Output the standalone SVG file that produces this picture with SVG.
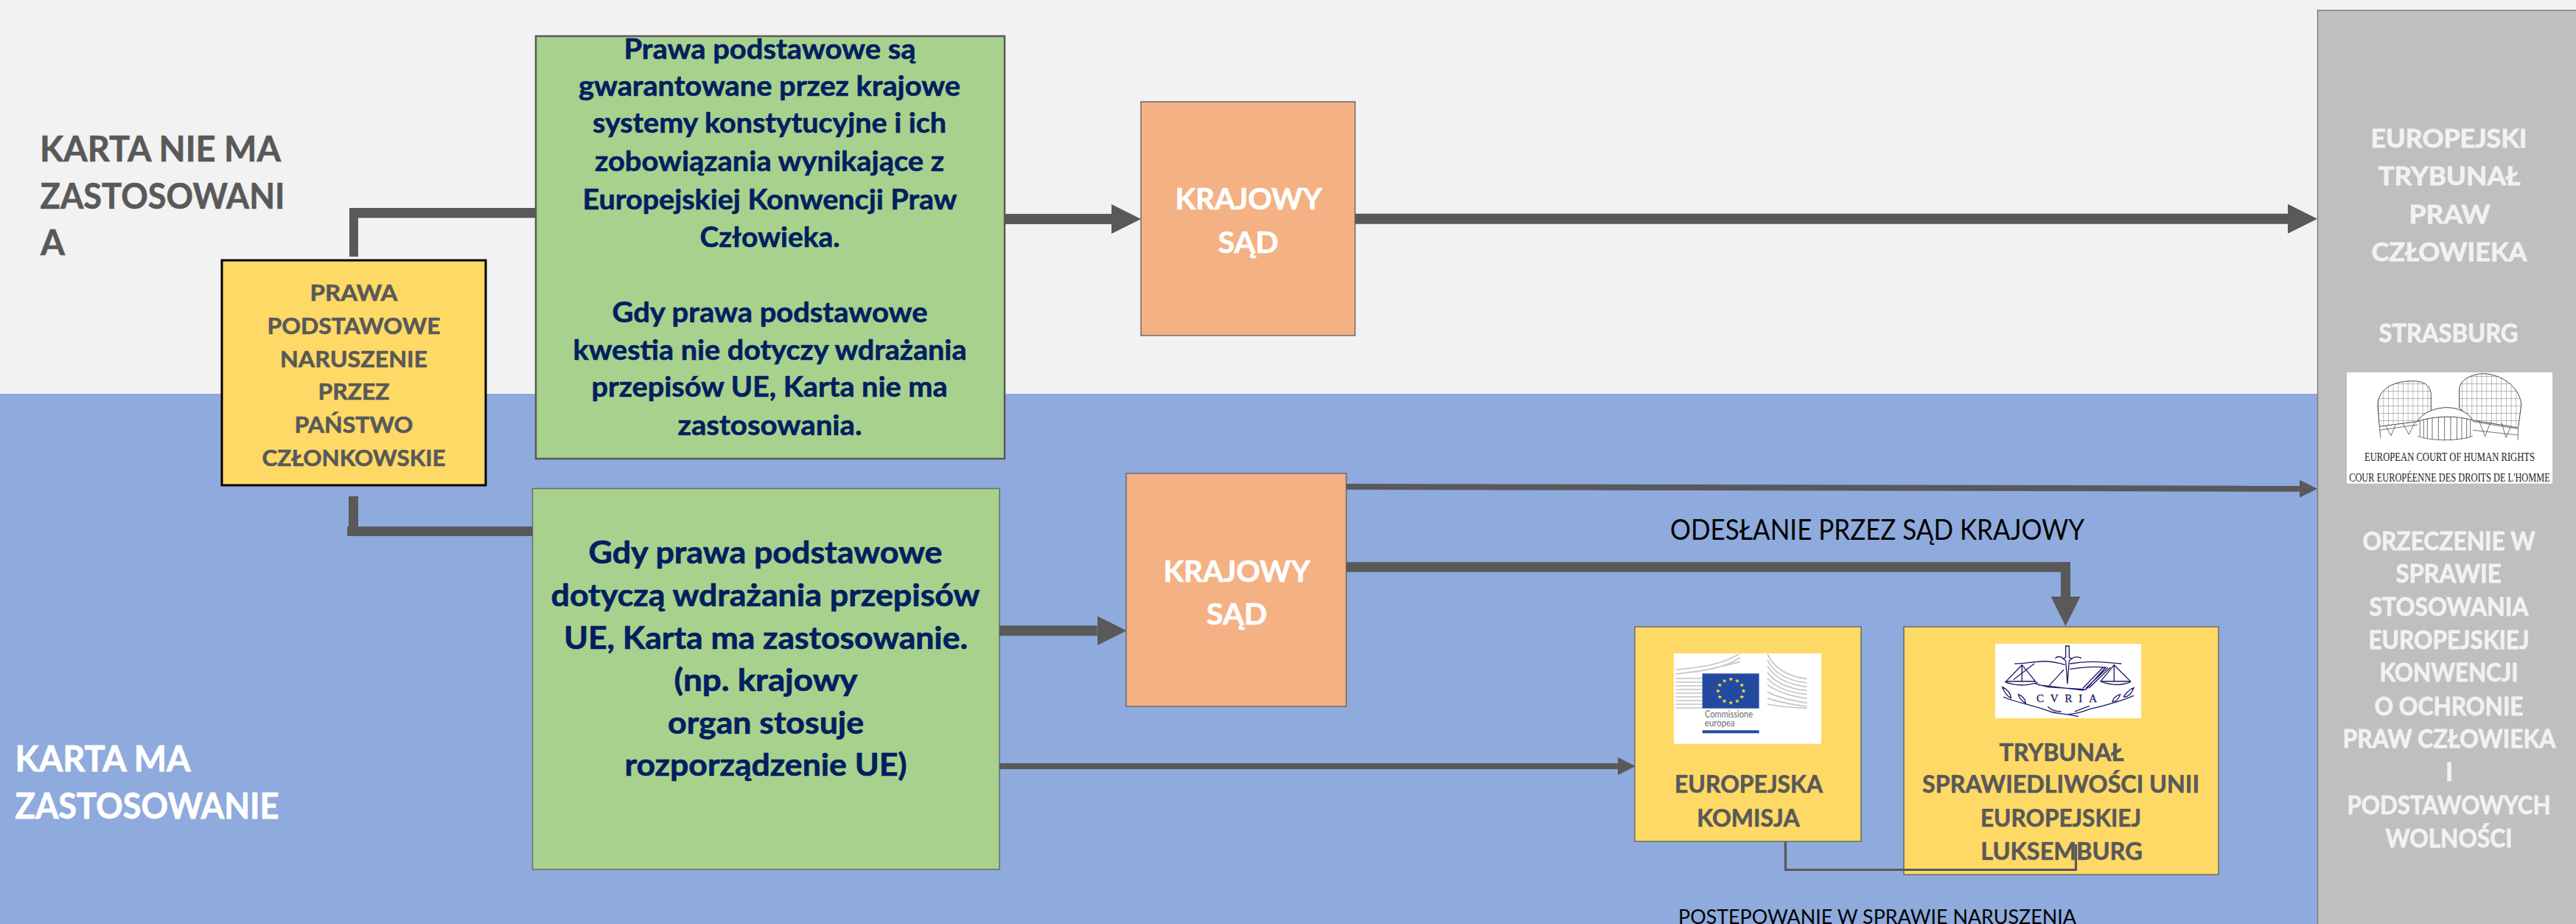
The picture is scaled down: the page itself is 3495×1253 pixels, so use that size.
<svg xmlns="http://www.w3.org/2000/svg" width="3495" height="1253" viewBox="0 0 3495 1253">
<style>
text{font-family:"Lato","Open Sans","Liberation Sans",sans-serif;font-weight:700;text-anchor:middle}
.b{stroke:#6b6b6b;stroke-width:1.5}
.g{fill:#a9d18e}.o{fill:#f4b183}.y{fill:#ffd966}
.n{fill:#002060;stroke:#002060;stroke-width:.6;font-size:38px}
.n2{fill:#002060;stroke:#002060;stroke-width:.7;font-size:42px}
.d{fill:#595959;stroke:#595959;stroke-width:.6;font-size:31px}
.d2{fill:#595959;stroke:#595959;stroke-width:.6;font-size:32px}
.w{fill:#fff;stroke:#fff;stroke-width:.7;font-size:41px}
.p{fill:#f2f2f2;stroke:#f2f2f2;stroke-width:.8;font-size:34px}
.h{font-size:47px}
.hw{fill:#fff;stroke:#fff;stroke-width:.8}
.l{text-anchor:start}
.c{fill:#000;font-weight:400}
.conn{fill:none;stroke:#595959}
.lg{fill:none;stroke:#c4c4c4;stroke-width:5}
.cu{fill:none;stroke:#1d1a66;stroke-width:4}
.eh{fill:none;stroke:#555;stroke-width:2.5}
.sf{font-family:"Liberation Serif",serif;font-weight:400}
</style>
<defs>
<marker id="big" markerUnits="userSpaceOnUse" markerWidth="40" markerHeight="40" refX="0" refY="20" orient="auto"><path d="M0,0L40,20L0,40Z" fill="#595959"/></marker>
<marker id="small" markerUnits="userSpaceOnUse" markerWidth="24" markerHeight="24" refX="0" refY="12" orient="auto"><path d="M0,0L24,12L0,24Z" fill="#595959"/></marker>
<polygon id="star" points="0,-9 2.4,-2.8 9,-2.8 3.8,1.2 5.6,7.5 0,3.8 -5.6,7.5 -3.8,1.2 -9,-2.8 -2.4,-2.8" fill="#f5e52e"/>
<pattern id="grid" patternUnits="userSpaceOnUse" width="20" height="30"><path d="M0,0V30M0,0H20" fill="none" stroke="#666" stroke-width="2.6"/></pattern>
</defs>

<g id="background">
<rect x="0" y="0" width="3495" height="534" fill="#f2f2f2"/>
<rect x="0" y="534" width="3495" height="719" fill="#8faadc"/>
</g>

<g id="label-nie-ma">
<text class="d h l" x="54" y="218.5" textLength="327" lengthAdjust="spacingAndGlyphs">KARTA NIE MA</text>
<text class="d h l" x="54.5" y="282.5" textLength="332" lengthAdjust="spacingAndGlyphs">ZASTOSOWANI</text>
<text class="d h l" x="55" y="345.5" textLength="33" lengthAdjust="spacingAndGlyphs">A</text>
</g>
<g id="label-ma">
<text class="h l hw" x="20.5" y="1045.7" textLength="238" lengthAdjust="spacingAndGlyphs">KARTA MA</text>
<text class="h l hw" x="20.5" y="1109.7" textLength="358" lengthAdjust="spacingAndGlyphs">ZASTOSOWANIE</text>
</g>

<g id="node-naruszenie">
<rect class="y" x="301" y="353" width="358" height="305" stroke="#000" stroke-width="3"/>
<text class="d" x="480" y="408" textLength="119" lengthAdjust="spacingAndGlyphs">PRAWA</text>
<text class="d" x="480" y="453" textLength="235" lengthAdjust="spacingAndGlyphs">PODSTAWOWE</text>
<text class="d" x="480" y="498" textLength="200" lengthAdjust="spacingAndGlyphs">NARUSZENIE</text>
<text class="d" x="480" y="542" textLength="97" lengthAdjust="spacingAndGlyphs">PRZEZ</text>
<text class="d" x="480" y="587" textLength="161" lengthAdjust="spacingAndGlyphs">PAŃSTWO</text>
<text class="d" x="480" y="632" textLength="249" lengthAdjust="spacingAndGlyphs">CZŁONKOWSKIE</text>
</g>

<g id="node-karta-nie-ma">
<rect class="g" x="727" y="49" width="636" height="573" stroke="#595959" stroke-width="2.5"/>
<text class="n" x="1044.5" y="79.5" textLength="396" lengthAdjust="spacingAndGlyphs">Prawa podstawowe są</text>
<text class="n" x="1044" y="129.5" textLength="518" lengthAdjust="spacingAndGlyphs">gwarantowane przez krajowe</text>
<text class="n" x="1044" y="180" textLength="480" lengthAdjust="spacingAndGlyphs">systemy konstytucyjne i ich</text>
<text class="n" x="1044" y="232" textLength="474" lengthAdjust="spacingAndGlyphs">zobowiązania wynikające z</text>
<text class="n" x="1044.5" y="283.5" textLength="508" lengthAdjust="spacingAndGlyphs">Europejskiej Konwencji Praw</text>
<text class="n" x="1044.5" y="335" textLength="190" lengthAdjust="spacingAndGlyphs">Człowieka.</text>
<text class="n" x="1044.5" y="436.6" textLength="428" lengthAdjust="spacingAndGlyphs">Gdy prawa podstawowe</text>
<text class="n" x="1044.5" y="487.5" textLength="534" lengthAdjust="spacingAndGlyphs">kwestia nie dotyczy wdrażania</text>
<text class="n" x="1044" y="538" textLength="483" lengthAdjust="spacingAndGlyphs">przepisów UE, Karta nie ma</text>
<text class="n" x="1044.5" y="590" textLength="250" lengthAdjust="spacingAndGlyphs">zastosowania.</text>
</g>

<g id="node-karta-ma">
<rect class="g b" x="722.5" y="662.5" width="633.5" height="516.5"/>
<text class="n2" x="1038.5" y="764" textLength="480" lengthAdjust="spacingAndGlyphs">Gdy prawa podstawowe</text>
<text class="n2" x="1038.5" y="822" textLength="582" lengthAdjust="spacingAndGlyphs">dotyczą wdrażania przepisów</text>
<text class="n2" x="1039" y="880" textLength="548" lengthAdjust="spacingAndGlyphs">UE, Karta ma zastosowanie.</text>
<text class="n2" x="1039" y="937" textLength="249" lengthAdjust="spacingAndGlyphs">(np. krajowy</text>
<text class="n2" x="1039" y="995" textLength="266" lengthAdjust="spacingAndGlyphs">organ stosuje</text>
<text class="n2" x="1039" y="1052" textLength="383" lengthAdjust="spacingAndGlyphs">rozporządzenie UE)</text>
</g>

<g id="node-krajowy-sad-1">
<rect class="o b" x="1548" y="138" width="290.5" height="317"/>
<text class="w" x="1694" y="284" textLength="199" lengthAdjust="spacingAndGlyphs">KRAJOWY</text>
<text class="w" x="1693.5" y="343" textLength="82" lengthAdjust="spacingAndGlyphs">SĄD</text>
</g>

<g id="node-krajowy-sad-2">
<rect class="o b" x="1528" y="642" width="298.5" height="316"/>
<text class="w" x="1678" y="789" textLength="199" lengthAdjust="spacingAndGlyphs">KRAJOWY</text>
<text class="w" x="1678" y="846.7" textLength="82.5" lengthAdjust="spacingAndGlyphs">SĄD</text>
</g>

<g id="label-odeslanie">
<text class="c" x="2547" y="731.7" font-size="38" textLength="562" lengthAdjust="spacingAndGlyphs">ODESŁANIE PRZEZ SĄD KRAJOWY</text>
</g>

<g id="node-komisja">
<rect class="y b" x="2218" y="850" width="307" height="291"/>
<rect x="2271" y="886" width="200" height="122.7" fill="#fff"/>
<g transform="translate(2200,840) scale(0.3333)">
<path class="lg" d="M220,205C300,195 400,190 480,140M220,222C300,212 410,205 483,155M220,240H330M220,255H330M220,270H330M220,285H330M220,300H330M220,315H330M220,330H330M220,345H330M220,360H330M410,190L483,172"/>
<path class="lg" d="M594,140C620,200 680,232 755,242M594,165C620,220 680,250 755,258M594,190C625,240 680,265 755,274M594,215C625,260 690,282 755,290M594,240C630,280 690,298 755,305M594,265C640,300 700,312 755,322M594,295C640,320 700,330 755,340M594,320C650,340 700,348 755,354M594,345C650,355 700,360 755,361"/>
<rect x="329" y="220" width="231" height="142" fill="#2449a0"/>
<g>
<use href="#star" x="445" y="243"/><use href="#star" x="471" y="250"/><use href="#star" x="490" y="267"/><use href="#star" x="497" y="291"/><use href="#star" x="490" y="315"/><use href="#star" x="471" y="332"/><use href="#star" x="445" y="339"/><use href="#star" x="419" y="332"/><use href="#star" x="400" y="315"/><use href="#star" x="393" y="291"/><use href="#star" x="400" y="267"/><use href="#star" x="419" y="250"/>
</g>
<rect x="329" y="451" width="231" height="12" fill="#2449a0"/>
</g>
<text x="2313" y="972.7" font-size="13" fill="#6b6b6b" style="text-anchor:start;font-weight:400" textLength="65" lengthAdjust="spacingAndGlyphs">Commissione</text>
<text x="2313" y="985" font-size="13" fill="#6b6b6b" style="text-anchor:start;font-weight:400" textLength="40.6" lengthAdjust="spacingAndGlyphs">europea</text>
<text class="d2" x="2372.5" y="1075" textLength="201" lengthAdjust="spacingAndGlyphs">EUROPEJSKA</text>
<text class="d2" x="2372" y="1120.7" textLength="139.5" lengthAdjust="spacingAndGlyphs">KOMISJA</text>
</g>

<g id="node-trybunal">
<rect class="y b" x="2583" y="850" width="427" height="336"/>
<rect x="2707" y="873" width="198" height="101" fill="#fff"/>
<g transform="translate(2650,850) scale(0.3333)">
<path class="cu" d="M458,78H472V125L482,130L472,138L465,232L458,138L448,130L458,125Z"/>
<path class="cu" d="M415,128C425,118 440,120 450,130M480,130C495,122 510,120 522,128"/>
<path class="cu" d="M250,150C320,150 370,125 455,155M475,150C560,135 620,145 685,150"/>
<path class="cu" d="M280,155L215,222H335ZM280,155V220M245,215L330,150M655,155L600,222H722ZM655,155V220"/>
<path class="cu" d="M210,224C250,240 300,240 345,226M605,224C650,240 690,238 722,224"/>
<path class="cu" d="M330,230L385,245L540,255L620,165C570,160 520,165 475,172M385,245L450,175M345,236L530,258M528,250L610,165M540,250L630,165M552,250L640,165"/>
<path class="cu" d="M200,245C210,270 225,285 235,290C235,270 215,250 200,245ZM265,275C270,295 285,305 295,310C295,295 280,280 265,275ZM205,285C240,305 320,315 395,345C430,355 470,355 510,365M735,248C715,255 695,280 695,285C715,285 730,265 735,248ZM680,275C660,280 650,295 648,305C665,305 675,290 680,275ZM735,280C700,295 620,320 555,335C530,345 500,355 470,355M385,325C400,340 420,345 440,345M555,322C530,330 510,340 495,345"/>
</g>
<text class="sf" x="2804" y="951.7" font-size="15" fill="#1d1a66" stroke="#1d1a66" stroke-width=".3" textLength="82" lengthAdjust="spacing">CVRIA</text>
<text class="d2" x="2797" y="1031.7" textLength="169" lengthAdjust="spacingAndGlyphs">TRYBUNAŁ</text>
<text class="d2" x="2796" y="1075" textLength="376" lengthAdjust="spacingAndGlyphs">SPRAWIEDLIWOŚCI UNII</text>
<text class="d2" x="2796" y="1120.7" textLength="218" lengthAdjust="spacingAndGlyphs">EUROPEJSKIEJ</text>
<text class="d2" x="2797" y="1165.7" textLength="219.5" lengthAdjust="spacingAndGlyphs">LUKSEMBURG</text>
</g>

<g id="label-postepowanie">
<text class="c" x="2547" y="1253" font-size="27" textLength="540" lengthAdjust="spacingAndGlyphs">POSTEPOWANIE W SPRAWIE NARUSZENIA</text>
</g>

<g id="node-etpc">
<rect x="3144.5" y="14" width="352" height="1241" fill="#bfbfbf" stroke="#7f7f7f" stroke-width="1.5"/>
<text class="p" x="3322.5" y="200" textLength="212" lengthAdjust="spacingAndGlyphs">EUROPEJSKI</text>
<text class="p" x="3323" y="251" textLength="193" lengthAdjust="spacingAndGlyphs">TRYBUNAŁ</text>
<text class="p" x="3323.5" y="302.7" textLength="110" lengthAdjust="spacingAndGlyphs">PRAW</text>
<text class="p" x="3323" y="354" textLength="211" lengthAdjust="spacingAndGlyphs">CZŁOWIEKA</text>
<text class="p" x="3322" y="464" textLength="189" lengthAdjust="spacingAndGlyphs">STRASBURG</text>
<rect x="3184" y="505" width="279" height="150.7" fill="#fff"/>
<g transform="translate(3100,450) scale(0.3333)">
<path d="M378,300C378,240 430,200 520,200C570,200 595,220 595,260V320L540,365L385,385Z" fill="url(#grid)" stroke="#444" stroke-width="3"/>
<path d="M710,230C715,190 770,170 810,170C900,175 962,240 962,300L950,390L765,360L710,310Z" fill="url(#grid)" stroke="#444" stroke-width="3"/>
<path class="eh" d="M385,385L390,432M385,400L540,378M412,385L432,422L450,380M480,372L505,418L530,368M765,365L950,395L948,440M765,400L950,420M790,360L815,425L838,365M882,370L900,430L920,385"/>
<path d="M540,365C560,325 620,308 660,308C700,308 745,325 765,360C700,340 610,340 540,365Z" fill="#fff" stroke="#444" stroke-width="3"/>
<path class="eh" d="M550,362V425M565,356V430M580,352V435M600,350V438M625,348V441M650,347V443M675,347V443M700,349V441M720,351V438M740,354V434M755,358V428M540,425C600,445 700,445 765,425"/>
</g>
<text class="sf" transform="translate(3323.5,625) scale(.72,1)" font-size="17.5" fill="#222" textLength="321" lengthAdjust="spacingAndGlyphs">EUROPEAN COURT OF HUMAN RIGHTS</text>
<text class="sf" transform="translate(3323.5,653) scale(.64,1)" font-size="17.5" fill="#222" textLength="426" lengthAdjust="spacingAndGlyphs">COUR EUROPÉENNE DES DROITS DE L'HOMME</text>
<text class="p" x="3322.5" y="745.8" textLength="234" lengthAdjust="spacingAndGlyphs">ORZECZENIE W</text>
<text class="p" x="3322" y="789.6" textLength="143" lengthAdjust="spacingAndGlyphs">SPRAWIE</text>
<text class="p" x="3322.5" y="835" textLength="216" lengthAdjust="spacingAndGlyphs">STOSOWANIA</text>
<text class="p" x="3322.5" y="879.6" textLength="218" lengthAdjust="spacingAndGlyphs">EUROPEJSKIEJ</text>
<text class="p" x="3322.5" y="924" textLength="188" lengthAdjust="spacingAndGlyphs">KONWENCJI</text>
<text class="p" x="3322.5" y="969.5" textLength="202" lengthAdjust="spacingAndGlyphs">O OCHRONIE</text>
<text class="p" x="3323" y="1014" textLength="289" lengthAdjust="spacingAndGlyphs">PRAW CZŁOWIEKA</text>
<text class="p" x="3323" y="1058.6">I</text>
<text class="p" x="3322.5" y="1104" textLength="276" lengthAdjust="spacingAndGlyphs">PODSTAWOWYCH</text>
<text class="p" x="3322.5" y="1149.3" textLength="172" lengthAdjust="spacingAndGlyphs">WOLNOŚCI</text>
</g>

<g id="connectors">
<path class="conn" stroke-width="12" d="M480,348V282"/>
<path class="conn" stroke-width="13.5" d="M480,288.7H727"/>
<path class="conn" stroke-width="13" d="M479.5,673V720"/>
<path class="conn" stroke-width="13" d="M471,720.5H722.5"/>
<path class="conn" stroke-width="14" marker-end="url(#big)" d="M1363,297H1508"/>
<path class="conn" stroke-width="14" marker-end="url(#big)" d="M1838.5,296.7H3104"/>
<path class="conn" stroke-width="14" marker-end="url(#big)" d="M1356,855.2H1488.6"/>
<path class="conn" stroke-width="8" marker-end="url(#small)" d="M1826.5,660L3120,662.8"/>
<path class="conn" stroke-width="13.5" d="M1826.5,769H2802.5"/>
<path class="conn" stroke-width="13" marker-end="url(#big)" d="M2802.5,762V809"/>
<path class="conn" stroke-width="8" marker-end="url(#small)" d="M1356,1039H2195"/>
<path class="conn" stroke-width="3.2" d="M2422.5,1141V1179.5H2816.5V1145"/>
</g>
</svg>
